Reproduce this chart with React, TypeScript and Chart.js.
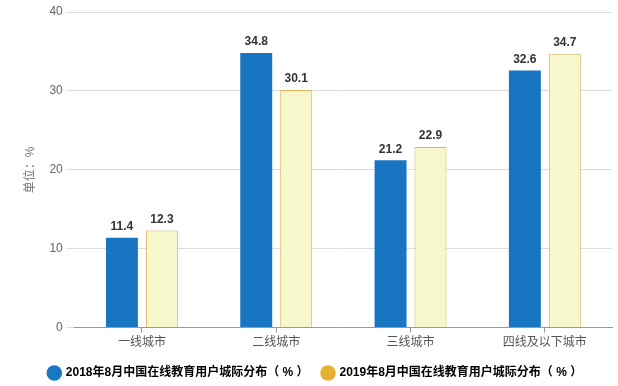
import React, { useEffect, useRef } from "react";
import { Chart, registerables } from "chart.js";

Chart.register(...registerables);

const categories = ["一线城市", "二线城市", "三线城市", "四线及以下城市"];
const series2018 = [11.4, 34.8, 21.2, 32.6];
const series2019 = [12.3, 30.1, 22.9, 34.7];
const seriesNames = ["2018年8月中国在线教育用户城际分布（ % ）", "2019年8月中国在线教育用户城际分布（ % ）"];
const yTitle = "单位：%";

const FONT = "'Liberation Sans', 'Noto Sans CJK SC', sans-serif";

const valueLabels = {
  id: "valueLabels",
  afterDatasetsDraw(chart: any) {
    const ctx = chart.ctx;
    ctx.save();
    ctx.font = `bold 12px ${FONT}`;
    ctx.fillStyle = "#333";
    ctx.textAlign = "center";
    ctx.textBaseline = "bottom";
    chart.data.datasets.forEach((ds: any, i: number) => {
      const meta = chart.getDatasetMeta(i);
      meta.data.forEach((bar: any, j: number) => {
        ctx.fillText(String(ds.data[j]), bar.x, bar.y - 5);
      });
    });
    ctx.restore();
  },
};

export default function App() {
  const ref = useRef<HTMLCanvasElement>(null);
  useEffect(() => {
    document.body.style.margin = "0";
    const chart = new Chart(ref.current!, {
      type: "bar",
      data: {
        labels: categories,
        datasets: [
          {
            label: seriesNames[0],
            data: series2018,
            backgroundColor: "#1976c3",
            borderColor: "#1976c3",
            borderWidth: 0,
          },
          {
            label: seriesNames[1],
            data: series2019,
            backgroundColor: "#f6f8cc",
            borderColor: "#dcb45a",
            borderWidth: 1,
          },
        ],
      },
      options: {
        animation: false,
        responsive: false,
        maintainAspectRatio: false,
        datasets: { bar: { categoryPercentage: 0.595, barPercentage: 0.8 } },
        layout: { padding: { top: 12, right: 6, left: 19, bottom: -3 } },
        plugins: {
          legend: {
            position: "bottom",
            labels: {
              usePointStyle: true,
              pointStyle: "circle",
              boxWidth: 11,
              boxHeight: 11,
              padding: 14,
              color: "#333",
              font: { family: FONT, size: 12, weight: "bold" },
              generateLabels(chart: any) {
                const cols = ["#1976c3", "#e8b032"];
                return chart.data.datasets.map((ds: any, i: number) => ({
                  text: ds.label,
                  fillStyle: cols[i],
                  strokeStyle: cols[i],
                  lineWidth: 0,
                  pointStyle: "circle",
                  datasetIndex: i,
                  hidden: false,
                }));
              },
            },
          },
          tooltip: { enabled: false },
        },
        scales: {
          x: {
            grid: { display: true, drawOnChartArea: false, drawTicks: true, tickLength: 5, offset: false, color: "#999" },
            border: { display: true, color: "#999" },
            ticks: { color: "#555", font: { family: FONT, size: 12 }, padding: 3 },
          },
          y: {
            min: 0,
            max: 40,
            ticks: { stepSize: 10, color: "#666", font: { family: FONT, size: 12 }, padding: 4 },
            grid: { color: "#dcdcdc", tickLength: 8 },
            border: { display: false },
            title: { display: true, text: yTitle, color: "#777", font: { family: FONT, size: 12 }, padding: { bottom: 8 } },
          },
        },
      },
      plugins: [valueLabels],
    });
    return () => chart.destroy();
  }, []);
  return (
    <div style={{ position: "absolute", left: 0, top: 0, width: 618, height: 386 }}>
      <canvas ref={ref} width={618} height={386} style={{ width: 618, height: 386 }} />
    </div>
  );
}
